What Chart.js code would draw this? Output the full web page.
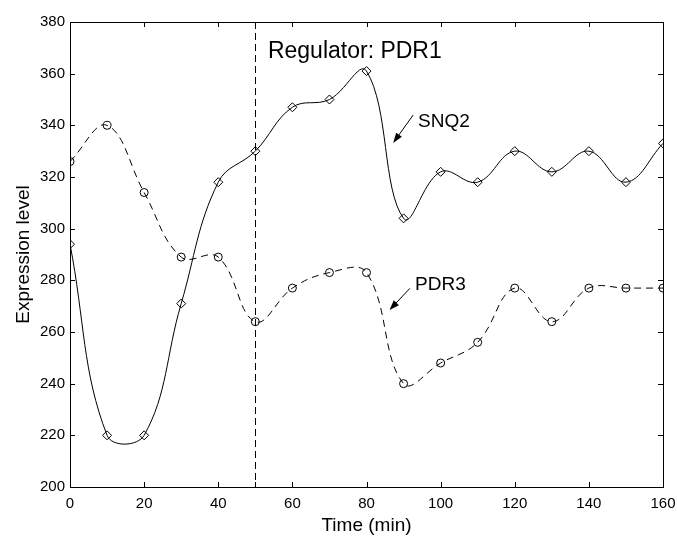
<!DOCTYPE html>
<html>
<head>
<meta charset="utf-8">
<script src="https://cdn.jsdelivr.net/npm/chart.js@4"></script>
<style>
  html, body { margin: 0; padding: 0; background: #fff; }
  #wrap { width: 677px; height: 537px; }
</style>
</head>
<body>
<div id="wrap"><canvas id="c"></canvas></div>
<script>
// time points (min)
let times = [0, 10, 20, 30, 40, 50, 60, 70, 80, 90, 100, 110, 120, 130, 140, 150, 160]
// expression levels
let snq2 = [294, 220, 220, 271, 318, 330, 347, 350, 361, 304, 322, 318, 330, 322, 330, 318, 333]
let pdr3 = [326, 340, 314, 289, 289, 264, 277, 283, 283, 240, 248, 256, 277, 264, 277, 277, 277]
let xTicks = [0, 20, 40, 60, 80, 100, 120, 140, 160]
let yTicks = [200, 220, 240, 260, 280, 300, 320, 340, 360, 380]
let regulatorTime = 50

// annotation text + arrows, in data units
let notes = [
    { text: 'Regulator: PDR1', x: 53.4, y: 368.5, size: 23 },
    { text: 'SNQ2', x: 93.9, y: 341.5, size: 19, from: [92.6, 344], to: [87.2, 333.2] },
    { text: 'PDR3', x: 93.1, y: 278.2, size: 19, from: [91.7, 276.9], to: [86.2, 268.5] }
]

const FONT = '"Liberation Sans", Arial, Helvetica, sans-serif'

let toPoints = function(vals){
    return times.map((t, i) => ({ x: t, y: vals[i] }))
}

let drawArrow = function(ctx, x1, y1, x2, y2){
    let ang = Math.atan2(y2 - y1, x2 - x1)
    let len = 10, half = 3.5
    ctx.beginPath()
    ctx.moveTo(x1, y1)
    ctx.lineTo(x2 - Math.cos(ang) * len * 0.8, y2 - Math.sin(ang) * len * 0.8)
    ctx.stroke()
    ctx.beginPath()
    ctx.moveTo(x2, y2)
    ctx.lineTo(x2 - Math.cos(ang) * len - Math.sin(ang) * half, y2 - Math.sin(ang) * len + Math.cos(ang) * half)
    ctx.lineTo(x2 - Math.cos(ang) * len + Math.sin(ang) * half, y2 - Math.sin(ang) * len - Math.cos(ang) * half)
    ctx.closePath()
    ctx.fill()
}

let decor = {
    id: 'decor',
    afterDatasetsDraw(chart){
        let ctx = chart.ctx
        let a = chart.chartArea
        let xs = chart.scales.x, ys = chart.scales.y
        ctx.save()
        ctx.strokeStyle = '#000'
        ctx.fillStyle = '#000'
        ctx.lineWidth = 1

        // regulator line
        let rx = Math.round(xs.getPixelForValue(regulatorTime)) + 0.5
        ctx.setLineDash([7, 4])
        ctx.beginPath()
        ctx.moveTo(rx, a.top)
        ctx.lineTo(rx, a.bottom)
        ctx.stroke()
        ctx.setLineDash([])

        // box
        ctx.strokeRect(Math.round(a.left) + 0.5, Math.round(a.top) + 0.5, Math.round(a.right - a.left), Math.round(a.bottom - a.top))

        // inward ticks
        let tl = 5
        ctx.beginPath()
        xTicks.concat([regulatorTime]).forEach(v => {
            let px = Math.round(xs.getPixelForValue(v)) + 0.5
            ctx.moveTo(px, a.bottom); ctx.lineTo(px, a.bottom - tl)
            if (v !== regulatorTime) { ctx.moveTo(px, a.top); ctx.lineTo(px, a.top + tl) }
        })
        yTicks.forEach(v => {
            let py = Math.round(ys.getPixelForValue(v)) + 0.5
            ctx.moveTo(a.left, py); ctx.lineTo(a.left + tl, py)
            ctx.moveTo(a.right, py); ctx.lineTo(a.right - tl, py)
        })
        ctx.stroke()

        // labels and arrows
        ctx.textAlign = 'left'
        ctx.textBaseline = 'middle'
        notes.forEach(n => {
            ctx.font = n.size + 'px ' + FONT
            ctx.fillText(n.text, xs.getPixelForValue(n.x), ys.getPixelForValue(n.y))
            if (n.from) {
                drawArrow(ctx,
                    xs.getPixelForValue(n.from[0]), ys.getPixelForValue(n.from[1]),
                    xs.getPixelForValue(n.to[0]), ys.getPixelForValue(n.to[1]))
            }
        })
        ctx.restore()
    }
}

Chart.defaults.font.family = FONT
Chart.defaults.color = '#000'

let myChart = new Chart(document.getElementById('c'), {
    type: 'line',
    data: {
        datasets: [{
            label: 'SNQ2',
            data: toPoints(snq2),
            borderColor: '#000',
            borderWidth: 1,
            tension: 0.4,
            pointStyle: 'rectRot',
            pointRadius: 4.5,
            pointBorderWidth: 1,
            pointBorderColor: '#000',
            pointBackgroundColor: 'rgba(0,0,0,0)'
        }, {
            label: 'PDR3',
            data: toPoints(pdr3),
            borderColor: '#000',
            borderWidth: 1,
            borderDash: [7, 5],
            tension: 0.4,
            pointStyle: 'circle',
            pointRadius: 4,
            pointBorderWidth: 1,
            pointBorderColor: '#000',
            pointBackgroundColor: 'rgba(0,0,0,0)'
        }]
    },
    options: {
        responsive: true,
        maintainAspectRatio: false,
        animation: false,
        events: [],
        layout: { padding: { top: 22, right: 14, left: 0, bottom: 0 } },
        plugins: {
            legend: { display: false },
            tooltip: { enabled: false }
        },
        scales: {
            x: {
                type: 'linear',
                min: 0,
                max: 160,
                afterBuildTicks: s => { s.ticks = xTicks.map(v => ({ value: v })) },
                afterFit: s => { s.height = 50; s.paddingLeft = 0; s.paddingRight = 0 },
                grid: { display: false, drawTicks: false },
                border: { display: false },
                ticks: { font: { size: 15 }, padding: 8, maxRotation: 0 },
                title: { display: true, text: 'Time (min)', font: { size: 19 }, padding: { top: 0, bottom: 0 } }
            },
            y: {
                type: 'linear',
                min: 200,
                max: 380,
                afterBuildTicks: s => { s.ticks = yTicks.map(v => ({ value: v })) },
                afterFit: s => { s.width = 70; s.paddingTop = 0; s.paddingBottom = 0 },
                grid: { display: false, drawTicks: false },
                border: { display: false },
                ticks: { font: { size: 15 }, padding: 5 },
                title: { display: true, text: 'Expression level', font: { size: 19 }, padding: { top: 12, bottom: 0 } }
            }
        }
    },
    plugins: [decor]
})
</script>
</body>
</html>
